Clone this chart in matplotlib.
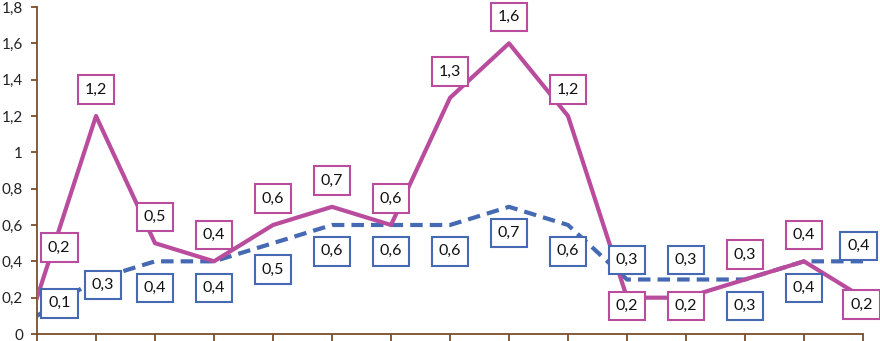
import matplotlib.pyplot as plt
from matplotlib.ticker import FuncFormatter

plt.rcParams['font.family'] = ['Lato', 'DejaVu Sans']

# ----------- data ---------------#
pink = [0.2, 1.2, 0.5, 0.4, 0.6, 0.7, 0.6, 1.3, 1.6, 1.2, 0.2, 0.2, 0.3, 0.4, 0.2]
blue = [0.1, 0.3, 0.4, 0.4, 0.5, 0.6, 0.6, 0.6, 0.7, 0.6, 0.3, 0.3, 0.3, 0.4, 0.4]
y_ticks = [0, 0.2, 0.4, 0.6, 0.8, 1, 1.2, 1.4, 1.6, 1.8]

# label offsets in points (dx, dy), up is positive
pink_off = [(16, 36), (0, 19), (0, 19), (0, 19), (0, 19), (0, 19), (0, 19), (0, 19),
            (0, 19), (0, 19), (0, -6), (0, -6), (0, 18), (0, 19), (-1, -5)]
blue_off = [(16, 9), (5, -4), (0, -19), (0, -19), (0, -19), (0, -19), (0, -19), (0, -19),
            (0, -19), (0, -19), (0, 14), (0, 14), (0, -19), (0, -19), (-3, 11)]

PINK = '#BA4C9E'
BLUE = '#4569B2'
AXIS = '#7A4E2D'

x = list(range(len(pink)))

fig = plt.figure(figsize=(8.8, 3.41), dpi=100)
ax = fig.add_axes([37 / 880, 7 / 341, (863 - 37) / 880, (334 - 7) / 341])

ax.plot(x, blue, color=BLUE, lw=3, ls=(0, (3, 1.7)), zorder=2)
ax.plot(x, pink, color=PINK, lw=3, zorder=3)


def fmt(v):
    return ('%g' % v).replace('.', ',')


for xs, ys, offs, col in [(x, pink, pink_off, PINK), (x, blue, blue_off, BLUE)]:
    for xi, yi, (dx, dy) in zip(xs, ys, offs):
        ax.annotate(fmt(yi), (xi, yi), xytext=(dx, dy), textcoords='offset points',
                    ha='center', va='center', fontsize=11.5, color='#111111', zorder=5,
                    bbox=dict(boxstyle='square,pad=0.45', fc='white', ec=col, lw=1.5))

ax.set_xlim(0, 14)
ax.set_ylim(0, 1.8)
ax.set_yticks(y_ticks)
ax.yaxis.set_major_formatter(FuncFormatter(lambda v, p: fmt(round(v, 1))))
ax.set_xticks(x)
ax.set_xticklabels([])

for s in ['top', 'right']:
    ax.spines[s].set_visible(False)
for s in ['left', 'bottom']:
    ax.spines[s].set_color(AXIS)
    ax.spines[s].set_linewidth(1.3)
ax.tick_params(axis='y', colors=AXIS, length=4, width=1.3, labelsize=11,
               labelcolor='#222222', pad=6)
ax.tick_params(axis='x', colors=AXIS, length=6, width=1.3)
ax.patch.set_visible(False)

fig.savefig('out.png', dpi=100)
